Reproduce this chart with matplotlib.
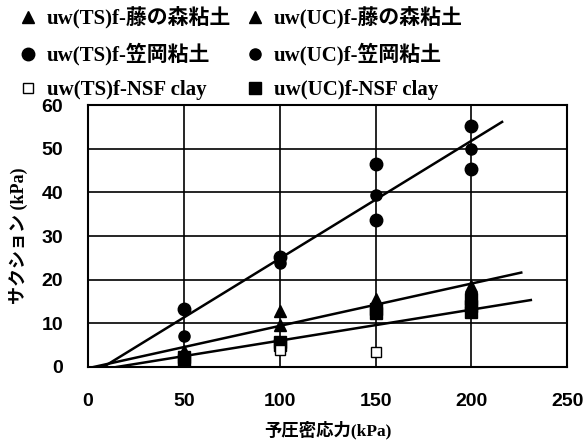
import numpy as np
import matplotlib
matplotlib.use("Agg")
import matplotlib.pyplot as plt

# ── data ────────────────────────────────────────────────────────────────────
ts_fuji_x = [50, 100, 150, 200]
ts_fuji_y = [3.6, 12.8, 15.6, 18.5]
uc_fuji_x = [50, 100, 150]
uc_fuji_y = [3.0, 9.6, 14.6]

ts_kasa_x = [50, 100, 150, 150, 200, 200]
ts_kasa_y = [13.2, 25.2, 46.6, 33.6, 55.3, 45.4]
uc_kasa_x = [50, 100, 150, 200]
uc_kasa_y = [7.0, 23.8, 39.5, 50.0]

ts_nsf_x = [100, 150]
ts_nsf_y = [3.8, 3.4]
uc_nsf_x = [50, 50, 100, 100, 150, 150, 200, 200, 200]
uc_nsf_y = [2.3, 1.5, 5.8, 5.0, 13.2, 12.3, 15.6, 14.0, 12.6]

# fitted lines: (x start, x end, slope, x-intercept)
fit_kasa = (8, 216, 0.270, 8)
fit_fuji = (3, 226, 0.097, 3)
fit_nsf = (15, 231, 0.071, 15)

labels = ["uw(TS)f-藤の森粘土", "uw(UC)f-藤の森粘土",
          "uw(TS)f-笠岡粘土", "uw(UC)f-笠岡粘土",
          "uw(TS)f-NSF clay", "uw(UC)f-NSF clay"]

xticks = [0, 50, 100, 150, 200, 250]
yticks = [0, 10, 20, 30, 40, 50, 60]

SERIF_JP = ["Liberation Serif", "Noto Sans CJK JP"]

fig = plt.figure(figsize=(5.83, 4.40), dpi=100)
ax = fig.add_axes([0.151, 0.166, 0.822, 0.595])


def fit_line(spec):
    x0, x1, k, xz = spec
    xs = np.array([x0, x1], dtype=float)
    return xs, k * (xs - xz)


for spec in (fit_kasa, fit_fuji, fit_nsf):
    xs, ys = fit_line(spec)
    ax.plot(xs, ys, color="k", lw=1.8, zorder=2)

h1, = ax.plot(ts_fuji_x, ts_fuji_y, ls="none", marker="^", ms=9, color="k", zorder=3)
h2, = ax.plot(uc_fuji_x, uc_fuji_y, ls="none", marker="^", ms=8, color="k", zorder=3)
h3, = ax.plot(ts_kasa_x, ts_kasa_y, ls="none", marker="o", ms=9, color="k", zorder=3)
h4, = ax.plot(uc_kasa_x, uc_kasa_y, ls="none", marker="o", ms=8, color="k", zorder=3)
h5, = ax.plot(ts_nsf_x, ts_nsf_y, ls="none", marker="s", ms=7, mfc="white",
              mec="k", mew=1.0, zorder=4)
h6, = ax.plot(uc_nsf_x, uc_nsf_y, ls="none", marker="s", ms=8, color="k", zorder=3)

ax.set_xlim(0, 250)
ax.set_ylim(0, 60)
ax.set_xticks(xticks)
ax.set_yticks(yticks)
ax.tick_params(length=0, labelsize=14)
ax.tick_params(axis="y", pad=18)
ax.tick_params(axis="x", pad=19)
for lab in ax.get_xticklabels() + ax.get_yticklabels():
    lab.set_family("Liberation Sans")
    lab.set_fontweight("bold")

# grid: horizontal at every tick, vertical only inside
for y in yticks[1:-1]:
    ax.axhline(y, color="k", lw=1.2, zorder=1)
for x in xticks[1:-1]:
    ax.axvline(x, color="k", lw=1.2, zorder=1)
for s in ax.spines.values():
    s.set_linewidth(1.5)

ax.set_xlabel("予圧密応力(kPa)", family=SERIF_JP, fontweight="bold", fontsize=12.5)
ax.xaxis.set_label_coords(0.5, -0.205)
ax.set_ylabel("サクション (kPa)", family=SERIF_JP, fontweight="bold", fontsize=13)
ax.yaxis.set_label_coords(-0.125, 0.5)

# legend filled row by row (two columns)
handles = [h1, h3, h5, h2, h4, h6]
order = [0, 2, 4, 1, 3, 5]
leg = fig.legend(handles, [labels[i] for i in order], ncol=2,
                 loc="upper left", bbox_to_anchor=(0.002, 1.028),
                 frameon=False, handlelength=0.8, handletextpad=0.5,
                 columnspacing=0.75, labelspacing=0.68,
                 prop={"family": SERIF_JP, "weight": "bold", "size": 15})

fig.savefig("out.png", dpi=100)
